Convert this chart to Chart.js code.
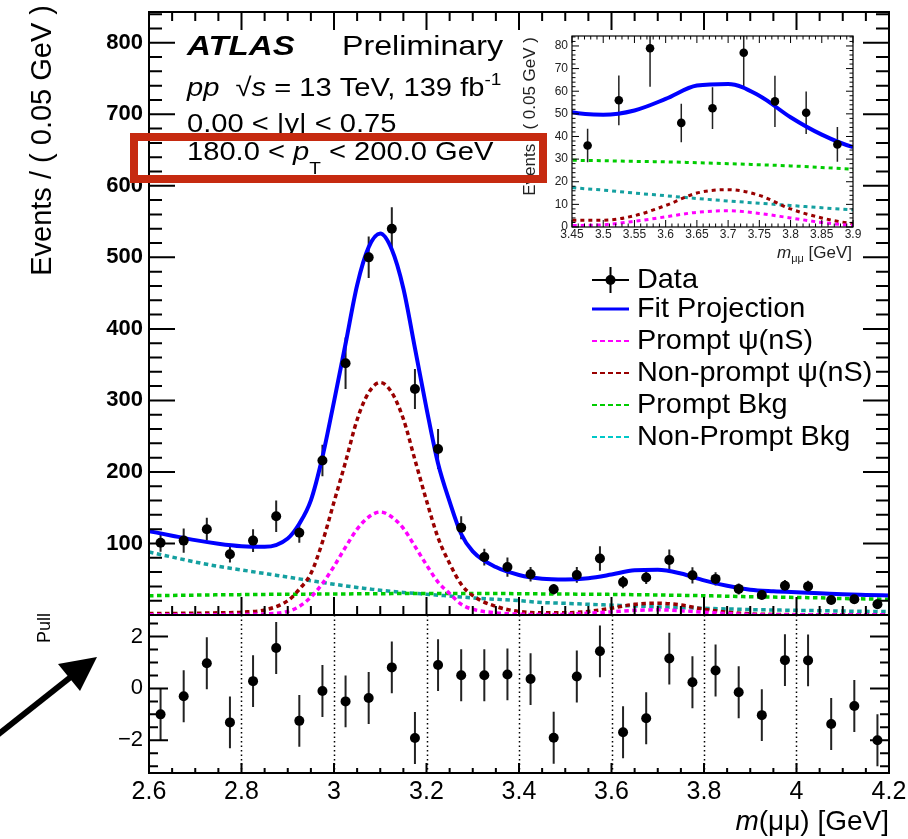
<!DOCTYPE html>
<html>
<head>
<meta charset="utf-8">
<script src="https://cdn.jsdelivr.net/npm/chart.js@4"></script>
<style>
  html, body { margin: 0; padding: 0; background: #fff; }
  body { width: 908px; height: 839px; position: relative; overflow: hidden; }
  canvas { position: absolute; }
</style>
</head>
<body>
<canvas id="inset" width="360" height="235" style="left:515px;top:30px;z-index:1"></canvas>
<canvas id="main" width="908" height="620" style="left:0;top:0;z-index:2"></canvas>
<canvas id="pull" width="908" height="239" style="left:0;top:600px;z-index:3"></canvas>
<script>
// ---------------- data ----------------
const massBins = [2.625,2.675,2.725,2.775,2.825,2.875,2.925,2.975,3.025,3.075,3.125,3.175,3.225,3.275,3.325,3.375,
                  3.425,3.475,3.525,3.575,3.625,3.675,3.725,3.775,3.825,3.875,3.925,3.975,4.025,4.075,4.125,4.175];
const eventCounts = [101,104,120,85,104,138,115,216,352,500,540,316,232,122,81,67,
                     57,36,56,79,46,52.5,77,55.5,50.5,36.5,28,41,40,21,22,15];
const countErrors = [12.5,17,16,11.7,16,22,14,22,36,29,30,28,28,16,11.7,13.5,
                     10,7.4,11,17,8.5,9.2,14.7,11.3,9.4,7.7,6,8,8,6,6,6.5];
const pullValues = [-1.0,-0.3,0.97,-1.31,0.28,1.56,-1.25,-0.1,-0.5,-0.37,0.81,-1.91,0.9,0.51,0.51,0.54,
                    0.36,-1.9,0.46,1.43,-1.69,-1.15,1.15,0.24,0.69,-0.15,-1.03,1.09,1.08,-1.37,-0.68,-2.0];
const pullErrors = [1,1,1,1,1,1,1,1,1,1,1,1,1,1,1,1,1,1,1,1,1,1,1,1,1,1,1,1,1,1,1,1];

const curveMass = [2.6,2.65,2.7,2.75,2.8,2.85,
                   2.9,2.925,2.95,2.975,3.0,3.025,3.05,3.075,3.1,3.125,3.15,3.175,3.2,3.225,3.25,3.275,3.3,
                   3.35,3.4,3.45,3.5,3.55,3.6,3.65,3.7,3.75,3.8,3.85,3.9,3.95,4.0,4.05,4.1,4.15,4.2];
const fitTotal = [117.3,110.9,104.7,99.7,96.2,95.3,
                  107,127.6,160.2,220.8,298.4,379.2,461.1,514.2,533.3,510.9,456.5,373.2,289,211.7,158.5,113.2,89,
                  67,56,50.7,49.6,51.5,56.6,62.5,63.2,58,48.5,40.8,35.3,33.1,31.7,30.5,29,28.1,27.3];
const promptPsi = [0.3,0.3,0.4,0.5,0.7,1.5,
                   5,12,25,44,68,95,120,137,144,137,121,96,70,46,30,15,8,
                   3,1.2,0.7,1,2.5,4.5,6.5,7.2,6,4,2,0.7,0.3,0.2,0.2,0.2,0.2,0.2];
const nonPromptPsi = [2,2.2,2.5,3,4,7,
                      20,36,58,102,158,214,273,311,325,311,274,217,160,108,72,43,27,
                      12,5,3,3,5,9.5,15,16.5,14,8,4,1.5,0.8,0.5,0.3,0.3,0.3,0.3];
const promptBkg = [27,27.4,27.8,28.2,28.5,28.8,
                   29,29.1,29.2,29.3,29.4,29.5,29.6,29.7,29.8,29.9,30,30,30,30,30,30,30,
                   30,29.8,29.5,29.3,29,28.8,28.4,28,27.5,27,26.3,25.5,25,24.5,24,23,22.5,22];
const nonPromptBkg = [88,81,74,68,63,58,
                      53,50.5,48,45.5,43,40.7,38.5,36.5,34.5,33,31.5,30.2,29,27.7,26.5,25.2,24,
                      22,20,17.5,16.3,15,13.8,12.6,11.5,10.5,9.5,8.5,7.6,7,6.5,6,5.5,5.1,4.8];

// tick labels
const massTicks = [2.6,2.8,3.0,3.2,3.4,3.6,3.8,4.0,4.2];
const eventTicks = [100,200,300,400,500,600,700,800];
const pullTicks = [-2,0,2];
const insetMassTicks = [3.45,3.5,3.55,3.6,3.65,3.7,3.75,3.8,3.85,3.9];
const insetEventTicks = [0,10,20,30,40,50,60,70,80];

const legendLabels = ['Data','Fit Projection','Prompt \u03C8(nS)','Non-prompt \u03C8(nS)','Prompt Bkg','Non-Prompt Bkg'];
const pullGridMasses = [2.8,3.0,3.2,3.4,3.6,3.8,4.0];

// ---------------- helpers ----------------
const FONT = "'Liberation Sans', Arial, Helvetica, sans-serif";
Chart.defaults.font.family = FONT;
const f = (s, style) => (style ? style + ' ' : '') + s + 'px ' + FONT;

const COL = { fit:'#0000ff', prompt:'#ff00ff', nonprompt:'#990000', pbkg:'#00cc00', npbkg:'#14a0a0' };

function pts(xs, ys) { return xs.map((x, i) => ({ x: x, y: ys[i] })); }
const fixedTicks = vals => s => { s.ticks = vals.map(v => ({ value: v })); };

function curveDs(label, ys, color, width, dash, extra) {
  return Object.assign({
    label: label, data: pts(curveMass, ys), borderColor: color, borderWidth: width,
    borderDash: dash || [], pointRadius: 0, fill: false, cubicInterpolationMode: 'monotone',
    borderCapStyle: 'butt'
  }, extra || {});
}
function dataDs(xs, ys, r, extra) {
  return Object.assign({
    label: 'Data', data: pts(xs, ys), showLine: false, pointRadius: r,
    pointBackgroundColor: '#000', pointBorderWidth: 0, borderColor: '#000', backgroundColor: '#000'
  }, extra || {});
}

function errorBars(chart, xs, ys, es, color, width) {
  const { ctx, chartArea: a } = chart; const sx = chart.scales.x, sy = chart.scales.y;
  ctx.save();
  ctx.beginPath(); ctx.rect(a.left, a.top, a.right - a.left, a.bottom - a.top); ctx.clip();
  ctx.strokeStyle = color; ctx.lineWidth = width; ctx.beginPath();
  for (let i = 0; i < xs.length; i++) {
    const px = sx.getPixelForValue(xs[i]);
    ctx.moveTo(px, sy.getPixelForValue(ys[i] - es[i]));
    ctx.lineTo(px, sy.getPixelForValue(ys[i] + es[i]));
  }
  ctx.stroke(); ctx.restore();
}

function frameTicks(chart, s) {
  const { ctx, chartArea: a } = chart; const sx = chart.scales.x, sy = chart.scales.y;
  const isMaj = (v, step) => Math.abs(v / step - Math.round(v / step)) < 1e-6;
  ctx.save(); ctx.strokeStyle = '#000'; ctx.lineWidth = s.tickWidth; ctx.beginPath();
  const nx = Math.round((s.x[1] - s.x[0]) / s.x[2]);
  for (let i = 0; i <= nx; i++) {
    const v = s.x[0] + i * s.x[2]; const px = sx.getPixelForValue(v);
    const L = isMaj(v, s.x[3]) ? s.xLen[0] : s.xLen[1];
    if (s.bottom) { ctx.moveTo(px, a.bottom); ctx.lineTo(px, a.bottom - L); }
    if (s.top) { ctx.moveTo(px, a.top); ctx.lineTo(px, a.top + L); }
  }
  const ny = Math.round((s.y[1] - s.y[0]) / s.y[2]);
  for (let i = 0; i <= ny; i++) {
    const v = s.y[0] + i * s.y[2]; const py = sy.getPixelForValue(v);
    const L = isMaj(v, s.y[3]) ? s.yLen[0] : s.yLen[1];
    if (s.left) { ctx.moveTo(a.left, py); ctx.lineTo(a.left + L, py); }
    if (s.right) { ctx.moveTo(a.right, py); ctx.lineTo(a.right - L, py); }
  }
  ctx.stroke();
  ctx.lineWidth = s.frameWidth;
  ctx.strokeRect(a.left, a.top, a.right - a.left, a.bottom - a.top);
  ctx.restore();
}

function rich(ctx, parts, x, y, align, sx, color) {
  sx = sx || 1;
  ctx.save(); ctx.fillStyle = color || '#000'; ctx.textBaseline = 'alphabetic'; ctx.textAlign = 'left';
  let w = 0;
  for (const p of parts) { ctx.font = p.f; w += ctx.measureText(p.t).width; }
  const x0 = align === 'right' ? x - w * sx : x;
  ctx.translate(x0, y); ctx.scale(sx, 1);
  let cx = 0;
  for (const p of parts) { ctx.font = p.f; ctx.fillText(p.t, cx, p.dy || 0); cx += ctx.measureText(p.t).width; }
  ctx.restore();
}

function vText(ctx, text, x, yTop, font, color) {
  ctx.save(); ctx.translate(x, yTop); ctx.rotate(-Math.PI / 2);
  ctx.font = font; ctx.textAlign = 'right'; ctx.textBaseline = 'middle'; ctx.fillStyle = color || '#000';
  ctx.fillText(text, 0, 0); ctx.restore();
}

const baseOpts = {
  responsive: false, animation: false, devicePixelRatio: 1, events: [],
  plugins: { legend: { display: false }, tooltip: { enabled: false } }
};

// ---------------- main panel ----------------
const DASH = [4.5, 3.5];
new Chart(document.getElementById('main'), {
  type: 'line',
  data: { datasets: [
    dataDs(massBins, eventCounts, 5),
    curveDs('Fit Projection', fitTotal, COL.fit, 4),
    curveDs('Prompt psi', promptPsi, COL.prompt, 3.5, DASH),
    curveDs('Non-prompt psi', nonPromptPsi, COL.nonprompt, 3.5, DASH),
    curveDs('Prompt Bkg', promptBkg, COL.pbkg, 3.5, DASH),
    curveDs('Non-Prompt Bkg', nonPromptBkg, COL.npbkg, 3.5, DASH)
  ]},
  options: Object.assign({}, baseOpts, {
    layout: { padding: { left: 0, right: 19, top: 12, bottom: 5 } },
    scales: {
      x: { type: 'linear', min: 2.6, max: 4.2, display: false },
      y: {
        type: 'linear', min: 0, max: 843,
        ticks: { font: { size: 22, weight: 'bold' }, color: '#000', padding: 6 },
        grid: { display: false, drawTicks: false }, border: { display: false },
        afterBuildTicks: fixedTicks(eventTicks),
        afterFit: s => { s.width = 149; s.paddingTop = 0; s.paddingBottom = 0; }
      }
    }
  }),
  plugins: [{
    id: 'mainDeco',
    beforeDatasetsDraw(chart) { errorBars(chart, massBins, eventCounts, countErrors, '#222', 2); },
    afterDraw(chart) {
      const ctx = chart.ctx;
      frameTicks(chart, { x: [2.6, 4.2, 0.05, 0.2], xLen: [18, 9], y: [0, 840, 20, 100], yLen: [26, 13],
        bottom: true, top: true, left: true, right: true, tickWidth: 2, frameWidth: 2 });
      vText(ctx, 'Events / ( 0.05 GeV )', 43, 5, f(29));
      rich(ctx, [{ t: 'ATLAS', f: f(28, 'italic bold') }], 187, 55, 'left', 1.18);
      rich(ctx, [{ t: 'Preliminary', f: f(28) }], 342, 55, 'left', 1.15);
      rich(ctx, [{ t: 'pp', f: f(26, 'italic') }, { t: '  \u221A', f: f(26) }, { t: 's', f: f(26, 'italic') },
                 { t: ' = 13 TeV, 139 fb', f: f(26) }, { t: '-1', f: f(17), dy: -11 }], 187, 96, 'left', 1.12);
      rich(ctx, [{ t: '0.00 < |y| < 0.75', f: f(26) }], 187, 132, 'left', 1.12);
      rich(ctx, [{ t: '180.0 < ', f: f(26) }, { t: 'p', f: f(26, 'italic') }, { t: 'T', f: f(17), dy: 14 },
                 { t: ' < 200.0 GeV', f: f(26) }], 187, 160, 'left', 1.12);
      const base = [288, 317, 349, 381, 413, 445];
      const styles = [null, [COL.fit, 3, []], [COL.prompt, 2, [5, 3]], [COL.nonprompt, 2, [5, 3]],
                      [COL.pbkg, 2, [5, 3]], ['#00c8c8', 2, [5, 3]]];
      ctx.save();
      for (let i = 0; i < legendLabels.length; i++) {
        const ly = base[i] - 8;
        if (i === 0) {
          ctx.strokeStyle = '#000'; ctx.lineWidth = 2; ctx.setLineDash([]);
          ctx.beginPath(); ctx.moveTo(592, ly); ctx.lineTo(629, ly); ctx.moveTo(610.5, ly - 13); ctx.lineTo(610.5, ly + 13); ctx.stroke();
          ctx.fillStyle = '#000'; ctx.beginPath(); ctx.arc(610.5, ly, 5, 0, Math.PI * 2); ctx.fill();
        } else {
          ctx.strokeStyle = styles[i][0]; ctx.lineWidth = styles[i][1]; ctx.setLineDash(styles[i][2]);
          ctx.beginPath(); ctx.moveTo(592, ly); ctx.lineTo(629, ly); ctx.stroke();
        }
        ctx.setLineDash([]);
        rich(ctx, [{ t: legendLabels[i], f: f(28) }], 637, base[i], 'left', 1.03);
      }
      ctx.restore();
      ctx.save(); ctx.strokeStyle = '#c62a10'; ctx.lineWidth = 8;
      ctx.strokeRect(134, 137, 409, 42); ctx.restore();
    }
  }]
});

// ---------------- inset ----------------
new Chart(document.getElementById('inset'), {
  type: 'line',
  data: { datasets: [
    dataDs(massBins, eventCounts, 4.3, { clip: 0 }),
    curveDs('Fit Projection', fitTotal, COL.fit, 4, [], { clip: 0 }),
    curveDs('Prompt psi', promptPsi, COL.prompt, 3, [4, 4], { clip: 0 }),
    curveDs('Non-prompt psi', nonPromptPsi, COL.nonprompt, 3, [4, 4], { clip: 0 }),
    curveDs('Prompt Bkg', promptBkg, COL.pbkg, 3, [4, 4], { clip: 0 }),
    curveDs('Non-Prompt Bkg', nonPromptBkg, COL.npbkg, 3, [4, 4], { clip: 0 })
  ]},
  options: Object.assign({}, baseOpts, {
    layout: { padding: { left: 0, right: 22, top: 6, bottom: 0 } },
    scales: {
      x: {
        type: 'linear', min: 3.45, max: 3.9,
        ticks: { autoSkip: false, maxRotation: 0, font: { size: 12 }, color: '#222', padding: 0,
                 callback: v => String(parseFloat(v.toFixed(2))) },
        grid: { display: false, drawTicks: false }, border: { display: false },
        afterBuildTicks: fixedTicks(insetMassTicks),
        afterFit: s => { s.height = 38; s.paddingLeft = 0; s.paddingRight = 0; }
      },
      y: {
        type: 'linear', min: 0, max: 84.4,
        ticks: { font: { size: 12 }, color: '#222', padding: 4 },
        grid: { display: false, drawTicks: false }, border: { display: false },
        afterBuildTicks: fixedTicks(insetEventTicks),
        afterFit: s => { s.width = 57; s.paddingTop = 0; s.paddingBottom = 0; }
      }
    }
  }),
  plugins: [{
    id: 'insetDeco',
    beforeDatasetsDraw(chart) { errorBars(chart, massBins, eventCounts, countErrors, '#222', 1.5); },
    afterDraw(chart) {
      const ctx = chart.ctx;
      frameTicks(chart, { x: [3.45, 3.9, 0.01, 0.05], xLen: [7, 3.5], y: [0, 84, 2, 10], yLen: [7, 3.5],
        bottom: true, top: true, left: true, right: true, tickWidth: 1, frameWidth: 1.2 });
      vText(ctx, 'Events / ( 0.05 GeV )', 15, 7, f(17), '#222');
      rich(ctx, [{ t: 'm', f: f(17, 'italic') }, { t: '\u03BC\u03BC', f: f(11), dy: 4 }, { t: ' [GeV]', f: f(17) }],
           337, 228, 'right', 1, '#222');
    }
  }]
});

// ---------------- pull panel ----------------
new Chart(document.getElementById('pull'), {
  type: 'line',
  data: { datasets: [ dataDs(massBins, pullValues, 5) ] },
  options: Object.assign({}, baseOpts, {
    layout: { padding: { left: 0, right: 19, top: 15, bottom: 0 } },
    scales: {
      x: {
        type: 'linear', min: 2.6, max: 4.2,
        ticks: { autoSkip: false, maxRotation: 0, font: { size: 25 }, color: '#000', padding: 4,
                 callback: v => String(parseFloat(v.toFixed(2))) },
        grid: { display: false, drawTicks: false }, border: { display: false },
        afterBuildTicks: fixedTicks(massTicks),
        afterFit: s => { s.height = 66; s.paddingLeft = 0; s.paddingRight = 0; }
      },
      y: {
        type: 'linear', min: -3.26, max: 2.83,
        ticks: { font: { size: 22 }, color: '#000', padding: 6,
                 callback: v => v < 0 ? '\u2212' + Math.abs(v) : String(v) },
        grid: { display: false, drawTicks: false }, border: { display: false },
        afterBuildTicks: fixedTicks(pullTicks),
        afterFit: s => { s.width = 149; s.paddingTop = 0; s.paddingBottom = 0; }
      }
    }
  }),
  plugins: [{
    id: 'pullDeco',
    beforeDatasetsDraw(chart) {
      const { ctx, chartArea: a } = chart; const sx = chart.scales.x;
      ctx.save(); ctx.strokeStyle = '#000'; ctx.lineWidth = 1.5; ctx.setLineDash([1.5, 3]);
      ctx.beginPath();
      for (const m of pullGridMasses) { const px = Math.round(sx.getPixelForValue(m)) + 0.5; ctx.moveTo(px, a.top); ctx.lineTo(px, a.bottom); }
      ctx.stroke(); ctx.restore();
      errorBars(chart, massBins, pullValues, pullErrors, '#222', 2);
    },
    afterDraw(chart) {
      const ctx = chart.ctx;
      frameTicks(chart, { x: [2.6, 4.2, 0.05, 0.2], xLen: [10, 5], y: [-3, 2.5, 0.5, 2], yLen: [19, 9],
        bottom: true, top: false, left: true, right: true, tickWidth: 2, frameWidth: 2 });
      vText(ctx, 'Pull', 45, 13, f(18));
      rich(ctx, [{ t: 'm', f: f(28, 'italic') }, { t: '(\u03BC\u03BC) [GeV]', f: f(28) }], 889, 230, 'right', 1);
      ctx.save(); ctx.strokeStyle = '#000'; ctx.fillStyle = '#000'; ctx.lineWidth = 6;
      ctx.beginPath(); ctx.moveTo(-5, 137); ctx.lineTo(72, 76); ctx.stroke();
      ctx.beginPath(); ctx.moveTo(97, 57); ctx.lineTo(58, 64); ctx.lineTo(80, 91); ctx.closePath(); ctx.fill();
      ctx.restore();
    }
  }]
});
</script>
</body>
</html>
